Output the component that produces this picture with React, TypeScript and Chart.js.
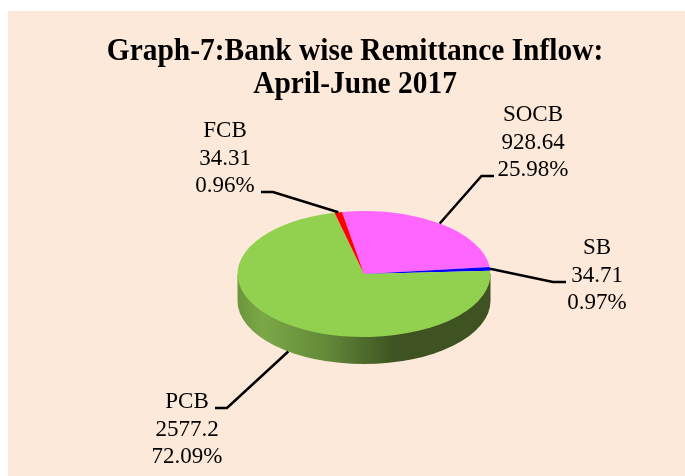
import React, { useEffect, useRef } from "react";
import { Chart, registerables } from "chart.js";

Chart.register(...registerables);

const titleLines = ["Graph-7:Bank wise Remittance Inflow:", "April-June 2017"];
const categories = ["SOCB", "SB", "PCB", "FCB"];
const values = [928.64, 34.71, 2577.2, 34.31];
const valueLabels = ["928.64", "34.71", "2577.2", "34.31"];
const percentLabels = ["25.98%", "0.97%", "72.09%", "0.96%"];
const colors = ["#FF66FF", "#0000FF", "#92D050", "#FF0000"];

const W = 685;
const H = 476;
const FONT = '"Liberation Serif", "Times New Roman", serif';
const SQUASH = 0.498;
const DEPTH = 27;
const LINE_H = 27.5;

// label block: text centre, first baseline; leader elbow and end
const labelLayout = [
  { cx: 533, y: 121, elbow: [481.5, 176], end: [494, 176] },
  { cx: 597, y: 254, elbow: [553, 282], end: [566, 282] },
  { cx: 187, y: 408, elbow: [227, 408], end: [215, 408] },
  { cx: 225, y: 137, elbow: [273, 192], end: [261, 192] },
];

const pseudo3d = {
  id: "pseudo3d",
  beforeDraw(chart: any) {
    const { ctx } = chart;
    ctx.save();
    ctx.fillStyle = "#FDE9D9";
    ctx.fillRect(8, 11, W - 8, H - 11);
    ctx.restore();
  },
  beforeDatasetsDraw(chart: any) {
    const { ctx } = chart;
    const arc = chart.getDatasetMeta(0).data[0];
    const { x, y, outerRadius: r } = arc;
    const ry = r * SQUASH;
    ctx.save();
    const g = ctx.createLinearGradient(x - r, 0, x + r, 0);
    g.addColorStop(0, "#6C953D");
    g.addColorStop(0.1, "#7AA846");
    g.addColorStop(0.35, "#64893A");
    g.addColorStop(0.62, "#3E5321");
    g.addColorStop(1, "#3E5321");
    ctx.fillStyle = g;
    ctx.beginPath();
    ctx.moveTo(x - r, y);
    ctx.lineTo(x - r, y + DEPTH);
    ctx.ellipse(x, y + DEPTH, r, ry, 0, Math.PI, 0, true);
    ctx.lineTo(x + r, y);
    ctx.closePath();
    ctx.fill();
    ctx.restore();
    ctx.save();
    ctx.translate(x, y);
    ctx.scale(1, SQUASH);
    ctx.translate(-x, -y);
  },
  afterDatasetsDraw(chart: any) {
    const { ctx } = chart;
    ctx.restore();
    ctx.save();
    ctx.fillStyle = "#000";
    ctx.textAlign = "center";
    ctx.textBaseline = "alphabetic";
    titleLines.forEach((t, i) => {
      ctx.save();
      ctx.translate(355, 60 + i * 32.5);
      ctx.scale(0.95, 1);
      ctx.font = `bold 31px ${FONT}`;
      ctx.fillText(t, 0, 0);
      ctx.restore();
    });

    const arcs = chart.getDatasetMeta(0).data;
    categories.forEach((name, i) => {
      const a = arcs[i];
      const mid = (a.startAngle + a.endAngle) / 2;
      const ax = a.x + a.outerRadius * Math.cos(mid);
      let ay = a.y + a.outerRadius * SQUASH * Math.sin(mid);
      if (Math.sin(mid) > 0.2) ay += DEPTH;
      const l = labelLayout[i];
      ctx.strokeStyle = "#000";
      ctx.lineWidth = 2.5;
      ctx.beginPath();
      ctx.moveTo(ax, ay);
      ctx.lineTo(l.elbow[0], l.elbow[1]);
      ctx.lineTo(l.end[0], l.end[1]);
      ctx.stroke();
      ctx.font = `23px ${FONT}`;
      [name, valueLabels[i], percentLabels[i]].forEach((t, j) =>
        ctx.fillText(t, l.cx, l.y + j * LINE_H)
      );
    });
    ctx.restore();
  },
};

export default function App() {
  const ref = useRef<HTMLCanvasElement>(null);
  useEffect(() => {
    const chart = new Chart(ref.current!, {
      type: "pie",
      data: {
        labels: categories,
        datasets: [
          { data: values, backgroundColor: colors, borderWidth: 0, hoverOffset: 0 },
        ],
      },
      options: {
        responsive: false,
        animation: false,
        rotation: -10,
        layout: { padding: { left: 237.5, right: 194.5, top: 147.5, bottom: 75.5 } },
        plugins: { legend: { display: false }, tooltip: { enabled: false }, title: { display: false } },
      },
      plugins: [pseudo3d],
    } as any);
    return () => chart.destroy();
  }, []);
  return (
    <canvas
      ref={ref}
      width={W}
      height={H}
      style={{ position: "fixed", left: 0, top: 0, width: W, height: H, display: "block" }}
    />
  );
}
